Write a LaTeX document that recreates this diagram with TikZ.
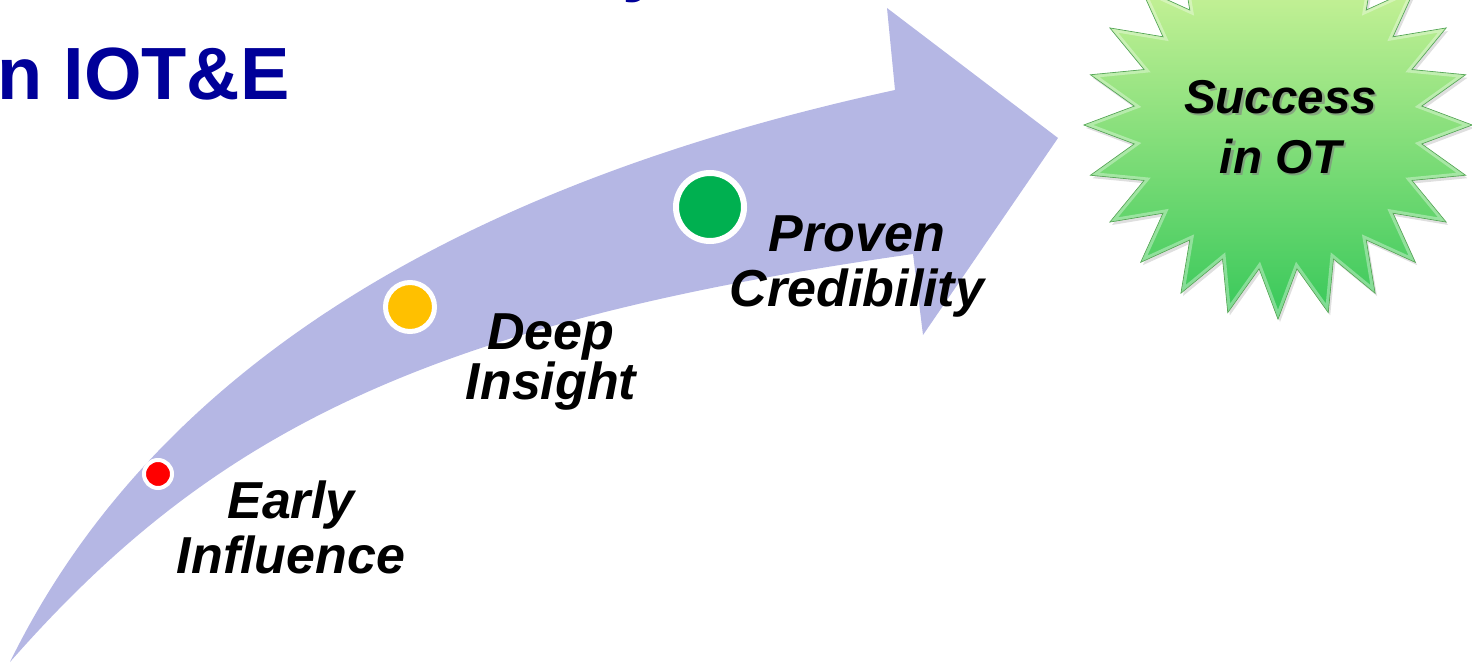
\documentclass[tikz,border=0pt]{standalone}
\usepackage{fontspec}
\setmainfont{Liberation Sans}
\usetikzlibrary{shapes.geometric,shadows}
\definecolor{arrowfill}{RGB}{181,183,228}
\definecolor{titleblue}{RGB}{0,0,153}
\definecolor{dotred}{RGB}{255,0,0}
\definecolor{dotyellow}{RGB}{255,192,0}
\definecolor{dotgreen}{RGB}{0,176,80}
\definecolor{startop}{RGB}{222,248,160}
\definecolor{starbot}{RGB}{55,200,90}
\definecolor{staredge}{RGB}{80,165,80}
\begin{document}
\begin{tikzpicture}[x=1pt,y=-1pt,
  labeltext/.style={font=\fontsize{52}{55}\selectfont\bfseries\itshape, align=center, anchor=center, inner sep=0pt},
  dot/.style={circle, draw=white, inner sep=0pt},
  titletext/.style={font=\fontsize{74}{80}\selectfont\bfseries, text=titleblue, inner sep=0pt},
  succtext/.style={font=\fontsize{47.5}{60}\selectfont\bfseries\itshape, align=center, anchor=center, inner sep=0pt},
]
\useasboundingbox (0,0) rectangle (1472,663);

% curved arrow
\coordinate (tail) at (10,662);
\coordinate (neckU) at (895,90);
\coordinate (barbU) at (887,8);
\coordinate (tip) at (1058,138);
\coordinate (barbL) at (923,335);
\coordinate (neckL) at (913,254);
\fill[arrowfill] (tail) .. controls (148.7,378.7) and (443.7,188) .. (neckU)
  -- (barbU) -- (tip) -- (barbL) -- (neckL)
  .. controls (418,324) and (208,437) .. (tail)
  -- cycle;

% dots
\node[dot, fill=dotred, minimum size=28pt, line width=4pt] (d1) at (158,474) {};
\node[dot, fill=dotyellow, minimum size=49pt, line width=5pt] (d2) at (410,307) {};
\node[dot, fill=dotgreen, minimum size=68pt, line width=6pt] (d3) at (710,207) {};

% labels
\node[labeltext] (l1) at (291,527.3) {Early\\Influence};
\node[labeltext, font=\fontsize{52}{50}\selectfont\bfseries\itshape] (l2) at (551,362) {Deep\\Insight};
\node[labeltext] (l3) at (857,266.4) {Proven\\Credibility};

% title
\node[titletext, anchor=base east] (title) at (290,100) {n IOT\&E};
\node[titletext, anchor=base west] (titletop) at (622,-12) {y};

% starburst
\node[star, star points=24, star point ratio=1.34, minimum size=388pt, inner sep=0pt,
      drop shadow={shadow xshift=2pt, shadow yshift=-3pt, opacity=0.25},
      top color=startop, bottom color=starbot, draw=staredge, line width=0.8pt] (burst) at (1278,125) {};
\node[star, star points=24, star point ratio=1.34, minimum size=378pt, inner sep=0pt,
      draw=white, draw opacity=0.35, line width=3pt] (burstrim) at (1278,125) {};
\node[succtext, text=black!50, opacity=0.6] (succshadow) at (1283,129.5) {Success\\in OT};
\node[succtext] (success) at (1280.5,127) {Success\\in OT};
\end{tikzpicture}
\end{document}
